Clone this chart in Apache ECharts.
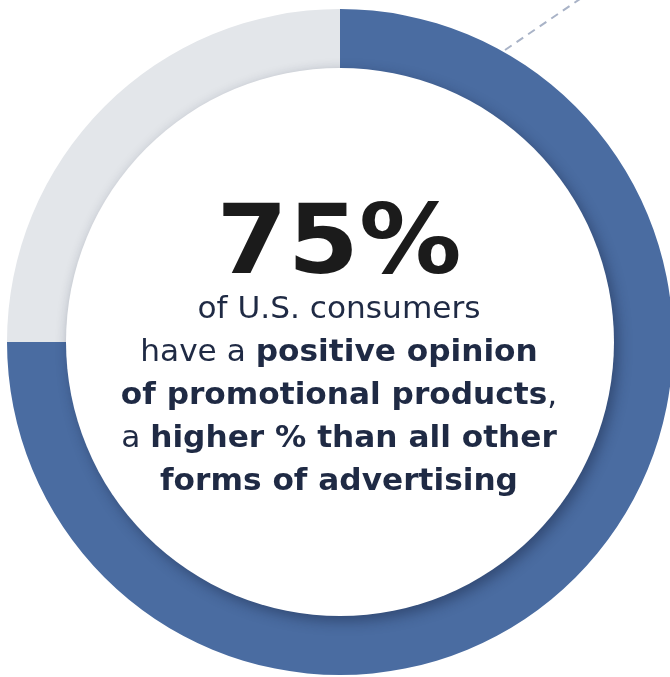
<!DOCTYPE html>
<html>
<head>
<meta charset="utf-8">
<script src="https://cdn.jsdelivr.net/npm/echarts@6/dist/echarts.min.js"></script>
<style>
  html, body { margin: 0; padding: 0; background: #ffffff; }
  #chart { width: 670px; height: 677px; }
</style>
</head>
<body>
<div id="chart"></div>
<script>
// Share of U.S. consumers with a positive opinion of promotional products
const categories = ['Positive opinion', 'Other'];
const shares = [75, 25];
const sliceColors = ['#4a6ca1', '#e3e6ea'];

const headline = '75%';
const bodyLines = [
  [['n', 'of U.S. consumers']],
  [['n', 'have a '], ['b', 'positive opinion']],
  [['b', 'of promotional products'], ['n', ',']],
  [['n', 'a '], ['b', 'higher % than all other']],
  [['b', 'forms of advertising']]
];

const chart = echarts.init(document.getElementById('chart'), null, { renderer: 'canvas' });

const CX = 340, CY = 342;
const TEXT_X = 339;
const bodyText = bodyLines
  .map(line => line.map(([k, t]) => '{' + k + '|' + t + '}').join(''))
  .join('\n');

chart.setOption({
  backgroundColor: '#ffffff',
  animation: false,
  series: [
    {
      type: 'pie',
      center: [CX, CY],
      radius: [270, 333],
      startAngle: 90,
      clockwise: true,
      silent: true,
      label: { show: false },
      labelLine: { show: false },
      z: 1,
      data: categories.map((name, i) => ({
        name,
        value: shares[i],
        itemStyle: { color: sliceColors[i] }
      }))
    },
    {
      // white face of the dial, casting a soft shadow onto the ring
      type: 'pie',
      center: [CX, CY],
      radius: [0, 274],
      silent: true,
      label: { show: false },
      labelLine: { show: false },
      z: 2,
      data: [{
        name: 'face',
        value: 1,
        itemStyle: {
          color: '#ffffff',
          shadowColor: 'rgba(20, 30, 60, 0.45)',
          shadowBlur: 14,
          shadowOffsetX: 4,
          shadowOffsetY: 5
        }
      }]
    }
  ],
  graphic: [
    {
      type: 'line',
      z: 0,
      shape: { x1: 505, y1: 50, x2: 580, y2: -1 },
      style: { stroke: '#a9b3c7', lineWidth: 2, lineDash: [8, 6] }
    },
    {
      type: 'text',
      z: 10,
      x: TEXT_X,
      y: 248,
      scaleX: 1.066,
      style: {
        text: headline,
        x: 0, y: 0,
        align: 'center',
        verticalAlign: 'middle',
        fontFamily: 'DejaVu Sans',
        fontWeight: 'bold',
        fontSize: 96,
        fill: '#1b1b1b'
      }
    },
    {
      type: 'text',
      z: 10,
      x: TEXT_X,
      y: 396,
      scaleX: 1.04,
      style: {
        text: bodyText,
        x: 0, y: 0,
        align: 'center',
        verticalAlign: 'middle',
        lineHeight: 43,
        rich: {
          n: {
            fontFamily: 'DejaVu Sans', fontSize: 30, fontWeight: 'normal',
            fill: '#1f2a44', lineHeight: 43
          },
          b: {
            fontFamily: 'DejaVu Sans', fontSize: 30, fontWeight: 'bold',
            fill: '#1f2a44', lineHeight: 43
          }
        }
      }
    }
  ]
});
</script>
</body>
</html>
